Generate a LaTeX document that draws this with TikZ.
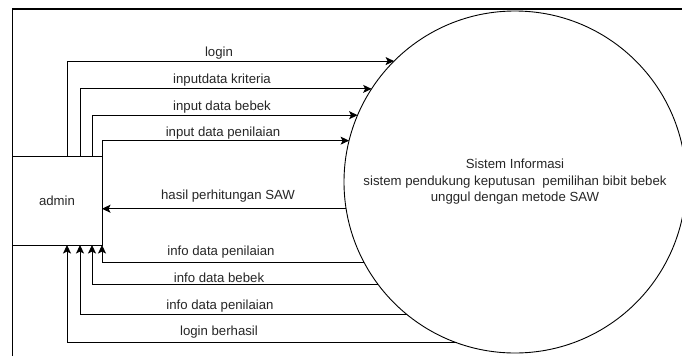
\documentclass[tikz,border=0pt]{standalone}
\usepackage{fontspec}
\setmainfont{Liberation Sans}
\usetikzlibrary{arrows.meta}
\begin{document}
\begin{tikzpicture}[x=1pt,y=-1pt,
  every node/.style={font=\fontsize{13.2}{16.5}\selectfont, text=black!85},
  entity/.style={draw, line width=0.9pt, minimum width=90pt, minimum height=89pt, outer sep=0pt, inner sep=0pt},
  process/.style={draw, circle, line width=0.9pt, minimum size=342pt, outer sep=0pt, inner sep=0pt, align=center},
  flow/.style={draw, line width=0.9pt, -{Stealth[length=8.5pt,width=8pt,inset=2pt]}},
  lbl/.style={inner sep=0pt}]
\useasboundingbox (0,0) rectangle (682,356);
% outer frame
\draw[line width=1.6pt] (12.5,356) -- (12.5,9) -- (682,9);
% external entity and process
\node[entity] (admin) at (57,200.5) {admin};
\node[process] (sys) at (515,182) {Sistem Informasi\\sistem pendukung keputusan\ \ pemilihan bibit bebek\\unggul dengan metode SAW};
% column positions of the vertical legs
\coordinate (c1) at (67,0);
\coordinate (c2) at (80,0);
\coordinate (c3) at (92,0);
% flows into the process
\draw[flow] (admin.north -| c1) |- (sys.135.9);
\draw[flow] (admin.north -| c2) |- (sys.147.05);
\draw[flow] (admin.north -| c3) |- (sys.157.3);
\draw[flow] (admin.north east) |- (sys.166.8);
% result flow
\draw[flow] (sys.189.4) -- (sys.189.4 -| admin.east);
% flows back to admin
\draw[flow] (sys.208.3) -| (admin.south east);
\draw[flow] (sys.217.9) -| (admin.south -| c3);
\draw[flow] (sys.231.6) -| (admin.south -| c2);
\draw[flow] (sys.250.3) -| (admin.south -| c1);
% flow labels
\node[lbl] (l1) at (219,53) {login};
\node[lbl] (l2) at (222,80) {inputdata kriteria};
\node[lbl] (l3) at (222,107) {input data bebek};
\node[lbl] (l4) at (223,133) {input data penilaian};
\node[lbl] (l5) at (228,196) {hasil perhitungan SAW};
\node[lbl] (l6) at (221,252) {info data penilaian};
\node[lbl] (l7) at (219,278) {info data bebek};
\node[lbl] (l8) at (220,306) {info data penilaian};
\node[lbl] (l9) at (219,332) {login berhasil};
\end{tikzpicture}
\end{document}
